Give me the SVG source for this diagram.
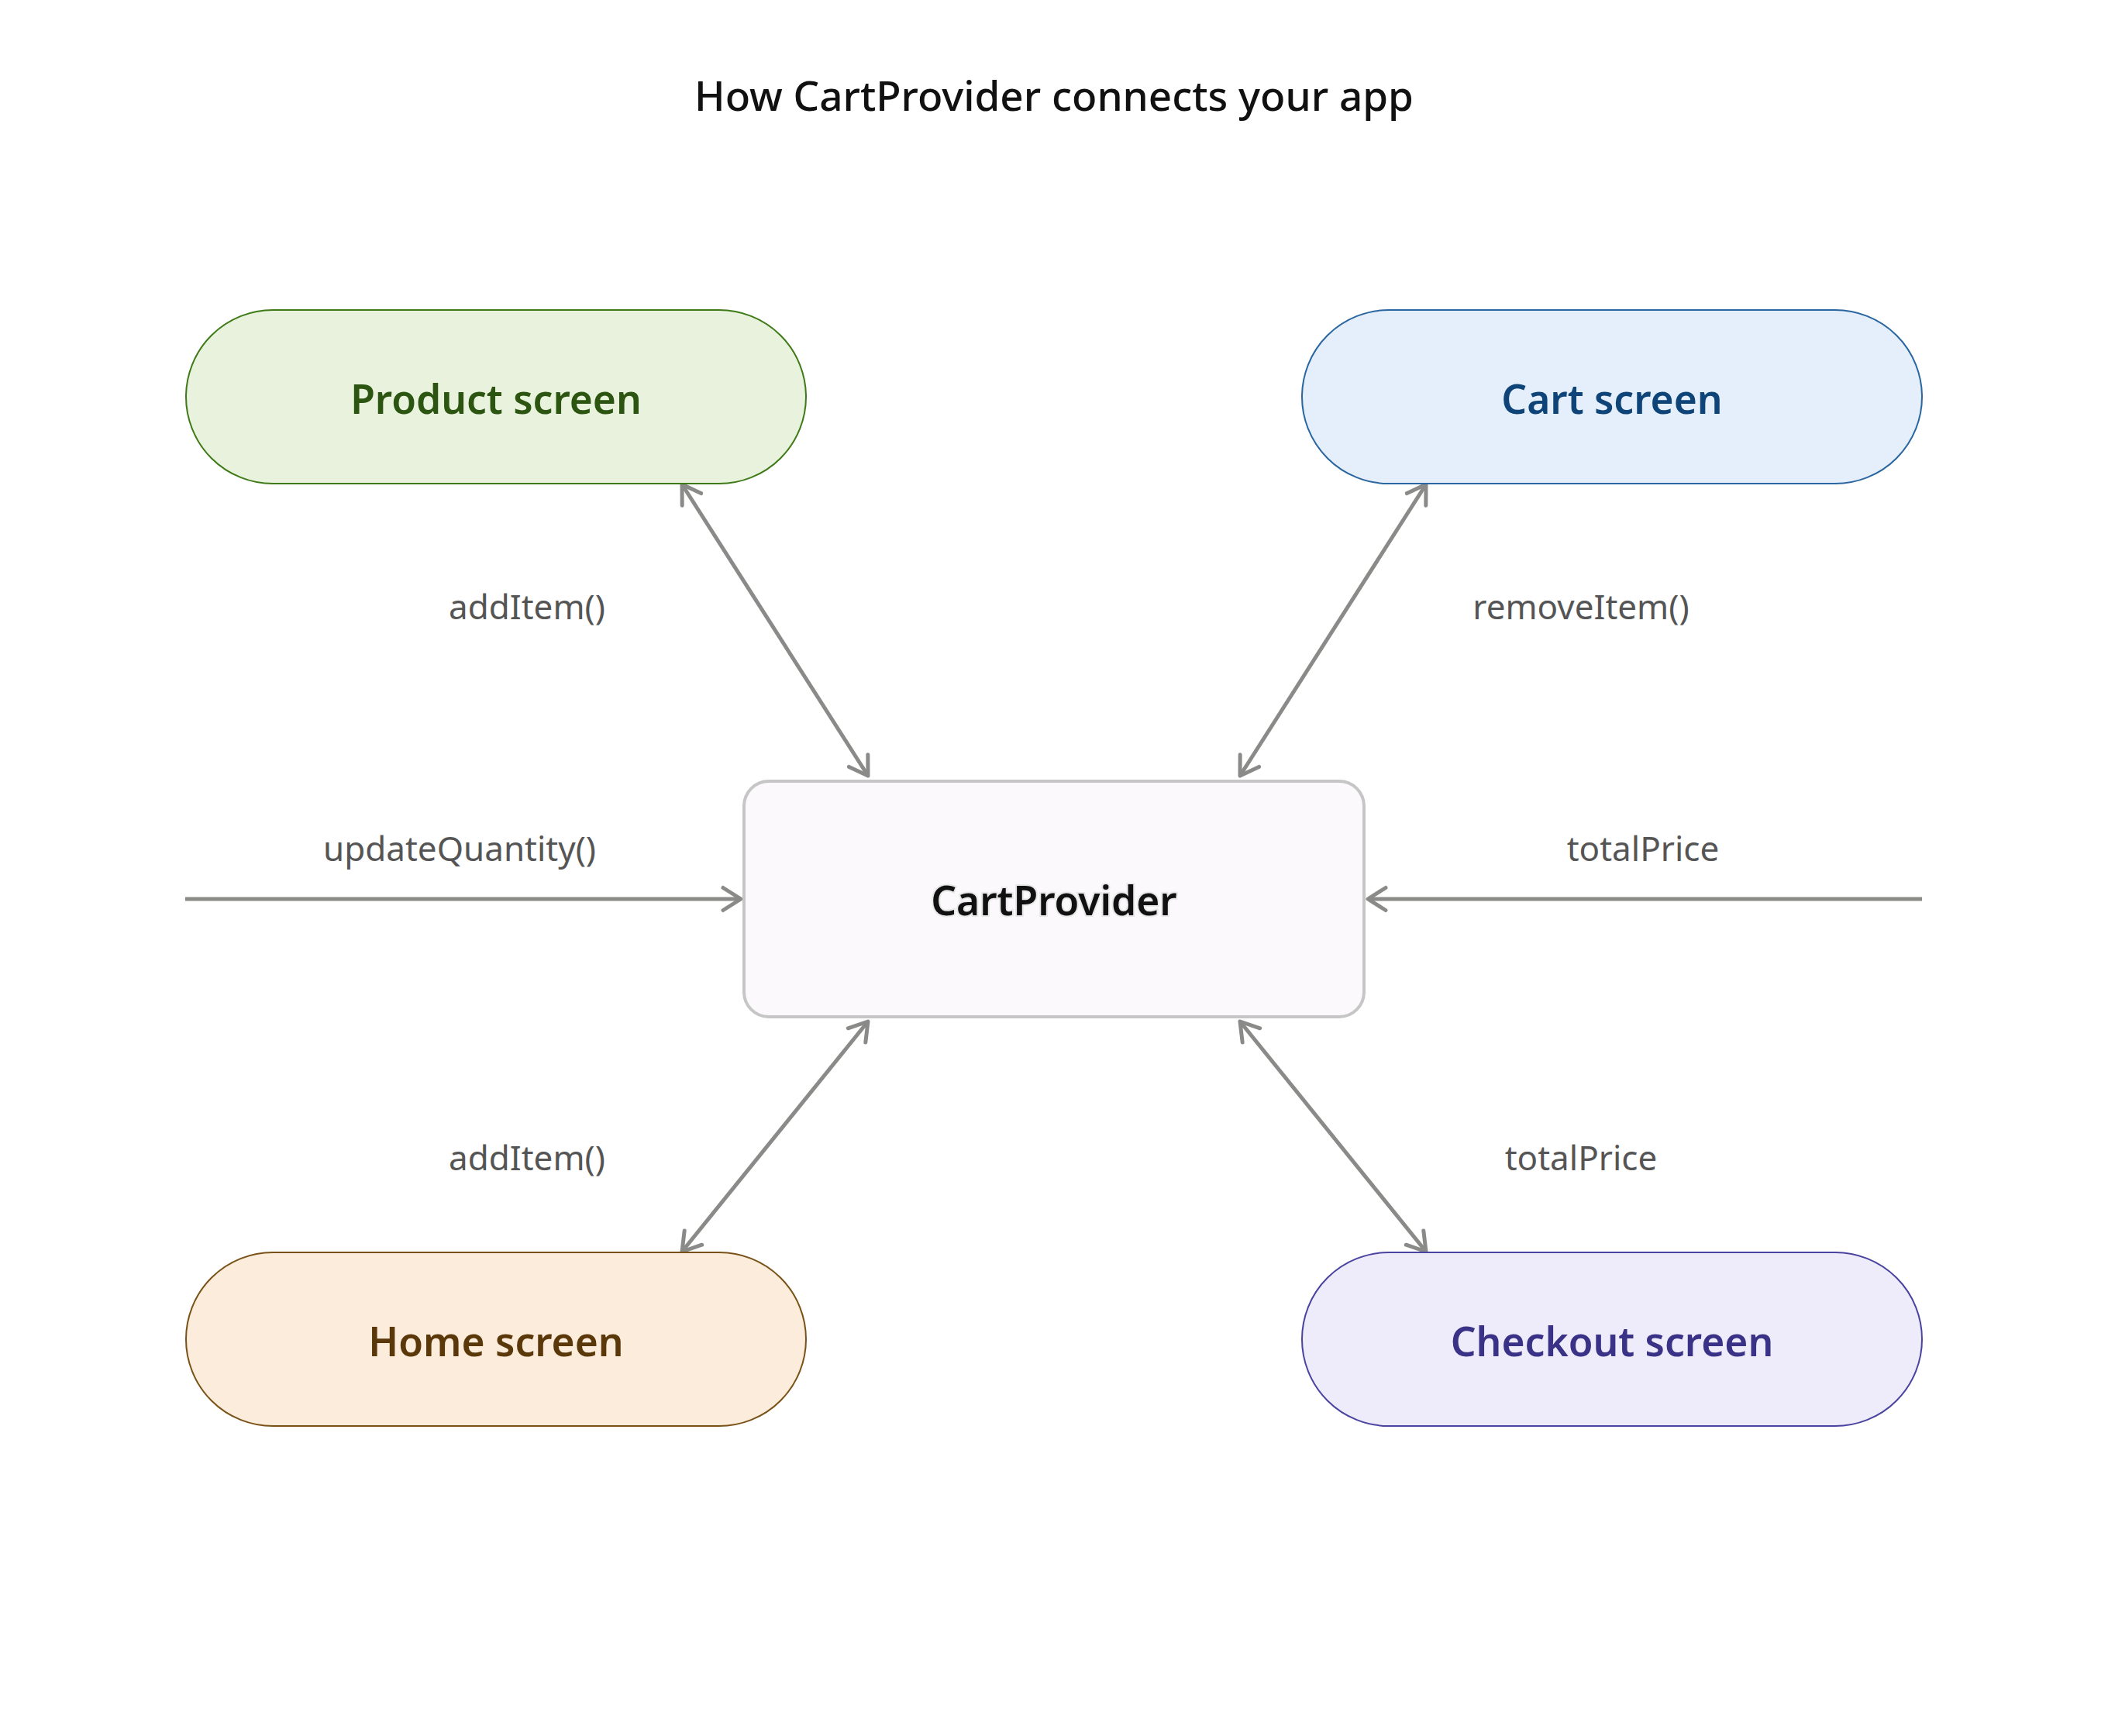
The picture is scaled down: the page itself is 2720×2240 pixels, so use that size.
<svg xmlns="http://www.w3.org/2000/svg" width="2720" height="2240" viewBox="0 0 2720 2240">
<style>
.title{font-family:"Noto Sans","Open Sans",sans-serif;font-size:53px;font-weight:500;fill:#111;text-anchor:middle}
.nt{font-family:"Noto Sans","Open Sans",sans-serif;font-size:51.5px;font-weight:600;text-anchor:middle}
.lbl{font-family:"Noto Sans","Open Sans",sans-serif;font-size:44px;fill:#555;text-anchor:middle}
.edge{fill:none;stroke:#8a8a88;stroke-width:5}
</style>
<defs>
<marker id="arr" markerUnits="userSpaceOnUse" markerWidth="60" markerHeight="60" viewBox="-30 -30 60 60" refX="0" refY="0" orient="auto-start-reverse" overflow="visible">
<path d="M-23,-14.5 L0,0 L-23,14.5" fill="none" stroke="#8a8a88" stroke-width="5" stroke-linecap="round" stroke-linejoin="round"/>
</marker>
</defs>
<rect width="2720" height="2240" fill="#fff"/>
<text class="title" x="1360" y="143">How CartProvider connects your app</text>

<g id="connectors">
<line class="edge" x1="880" y1="625" x2="1120" y2="1001" marker-start="url(#arr)" marker-end="url(#arr)"/>
<line class="edge" x1="1840" y1="625" x2="1600" y2="1001" marker-start="url(#arr)" marker-end="url(#arr)"/>
<line class="edge" x1="239" y1="1160" x2="956" y2="1160" marker-end="url(#arr)"/>
<line class="edge" x1="2480" y1="1160" x2="1765" y2="1160" marker-end="url(#arr)"/>
<line class="edge" x1="1120" y1="1318" x2="880" y2="1615" marker-start="url(#arr)" marker-end="url(#arr)"/>
<line class="edge" x1="1600" y1="1318" x2="1840" y2="1615" marker-start="url(#arr)" marker-end="url(#arr)"/>
<text class="lbl" x="680" y="799">addItem()</text>
<text class="lbl" x="2040" y="799">removeItem()</text>
<text class="lbl" x="593" y="1111">updateQuantity()</text>
<text class="lbl" x="2120" y="1111">totalPrice</text>
<text class="lbl" x="680" y="1510">addItem()</text>
<text class="lbl" x="2040" y="1510">totalPrice</text>
</g>

<g id="product">
<rect x="240" y="400" width="800" height="224" rx="112" fill="#e8f2dd" stroke="#3f7a18" stroke-width="2"/>
<text class="nt" x="640" y="534" fill="#2b5510">Product screen</text>
</g>
<g id="cart">
<rect x="1680" y="400" width="800" height="224" rx="112" fill="#e4effb" stroke="#2a66a0" stroke-width="2"/>
<text class="nt" x="2080" y="534" fill="#0f4478">Cart screen</text>
</g>
<g id="cartprovider">
<rect x="960" y="1008" width="800" height="304" rx="32" fill="#fbf9fb" stroke="#c6c6c6" stroke-width="4"/>
<text class="nt" x="1360" y="1181" fill="#111" stroke="#e8e8e8" stroke-width="4" paint-order="stroke">CartProvider</text>
</g>
<g id="home">
<rect x="240" y="1616" width="800" height="224" rx="112" fill="#fcecdb" stroke="#7a5218" stroke-width="2"/>
<text class="nt" x="640" y="1750" fill="#5a380a">Home screen</text>
</g>
<g id="checkout">
<rect x="1680" y="1616" width="800" height="224" rx="112" fill="#eeecfb" stroke="#4a43a0" stroke-width="2"/>
<text class="nt" x="2080" y="1750" fill="#3a3286">Checkout screen</text>
</g>
</svg>
